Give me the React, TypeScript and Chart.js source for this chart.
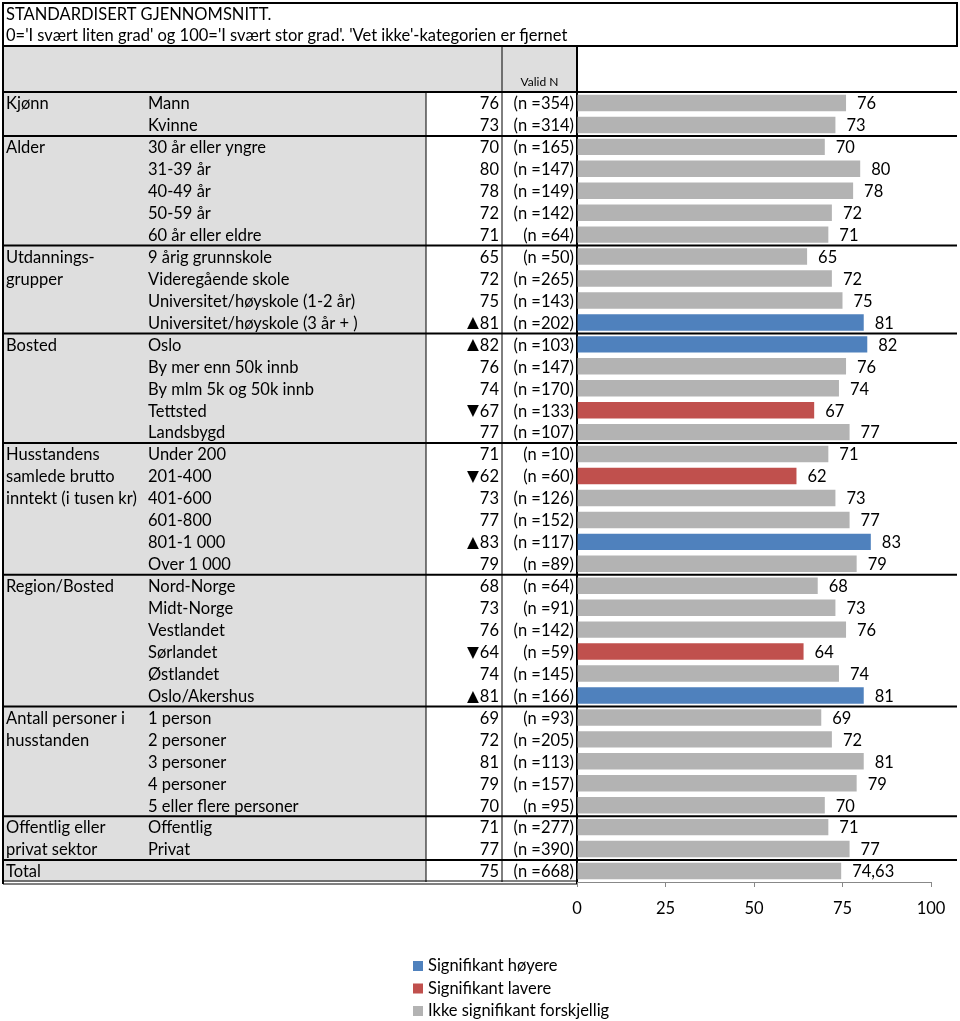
import React, { useEffect, useRef } from 'react';
import { Chart, registerables } from 'chart.js';

Chart.register(...registerables);

const titleLines = [
  'STANDARDISERT GJENNOMSNITT.',
  "0='I svært liten grad' og 100='I svært stor grad'. 'Vet ikke'-kategorien er fjernet",
];

const groupLabels: string[][] = [
  ['Kjønn'],
  ['Alder'],
  ['Utdannings-', 'grupper'],
  ['Bosted'],
  ['Husstandens', 'samlede brutto', 'inntekt (i tusen kr)'],
  ['Region/Bosted'],
  ['Antall personer i', 'husstanden'],
  ['Offentlig eller', 'privat sektor'],
  ['Total'],
];
const groupSizes = [2, 5, 4, 5, 6, 6, 5, 2, 1];

const categories = [
  'Mann', 'Kvinne',
  '30 år eller yngre', '31-39 år', '40-49 år', '50-59 år', '60 år eller eldre',
  '9 årig grunnskole', 'Videregående skole', 'Universitet/høyskole (1-2 år)', 'Universitet/høyskole (3 år + )',
  'Oslo', 'By mer enn 50k innb', 'By mlm 5k og 50k innb', 'Tettsted', 'Landsbygd',
  'Under 200', '201-400', '401-600', '601-800', '801-1 000', 'Over 1 000',
  'Nord-Norge', 'Midt-Norge', 'Vestlandet', 'Sørlandet', 'Østlandet', 'Oslo/Akershus',
  '1 person', '2 personer', '3 personer', '4 personer', '5 eller flere personer',
  'Offentlig', 'Privat',
  '',
];

const values = [
  76, 73,
  70, 80, 78, 72, 71,
  65, 72, 75, 81,
  82, 76, 74, 67, 77,
  71, 62, 73, 77, 83, 79,
  68, 73, 76, 64, 74, 81,
  69, 72, 81, 79, 70,
  71, 77,
  74.63,
];

const validN = [
  354, 314,
  165, 147, 149, 142, 64,
  50, 265, 143, 202,
  103, 147, 170, 133, 107,
  10, 60, 126, 152, 117, 89,
  64, 91, 142, 59, 145, 166,
  93, 205, 113, 157, 95,
  277, 390,
  668,
];

// h = significantly higher, l = significantly lower, n = not significant
const significance = [
  'n', 'n',
  'n', 'n', 'n', 'n', 'n',
  'n', 'n', 'n', 'h',
  'h', 'n', 'n', 'l', 'n',
  'n', 'l', 'n', 'n', 'h', 'n',
  'n', 'n', 'n', 'l', 'n', 'h',
  'n', 'n', 'n', 'n', 'n',
  'n', 'n',
  'n',
];

const xTicks = [0, 25, 50, 75, 100];
const legendKeys = ['h', 'l', 'n'];
const legendLabels = ['Signifikant høyere', 'Signifikant lavere', 'Ikke signifikant forskjellig'];

const COLORS: Record<string, string> = { h: '#4F81BD', l: '#C0504D', n: '#B3B3B3' };
const FONT = 'Lato, "Open Sans", sans-serif';
const FS = 16.5;
const CELL_BG = '#DEDEDE';

function fmt(v: number) {
  return Number.isInteger(v) ? String(v) : String(v).replace('.', ',');
}

const tablePlugin = {
  id: 'tablePlugin',
  beforeDraw(chart: any) {
    const ctx = chart.ctx as CanvasRenderingContext2D;
    const ys = chart.scales.y;
    const n = categories.length;
    const rowH = ys.getPixelForValue(1) - ys.getPixelForValue(0);
    const top = ys.getPixelForValue(0) - rowH / 2;
    const bottom = ys.getPixelForValue(n - 1) + rowH / 2;
    const L = 3, C1 = 426, C2 = 502, C3 = chart.chartArea.left, R = 957;
    const T = 3, HT = 46;

    ctx.save();
    ctx.fillStyle = '#fff';
    ctx.fillRect(0, 0, chart.width, chart.height);

    // header + label column backgrounds
    ctx.fillStyle = CELL_BG;
    ctx.fillRect(L, HT, C3 - L, top - HT);
    ctx.fillRect(L, top, C1 - L, bottom - top);

    // title
    ctx.fillStyle = '#000';
    ctx.textBaseline = 'middle';
    ctx.textAlign = 'left';
    ctx.font = `${FS}px ${FONT}`;
    ctx.fillText(titleLines[0], 6, 15);
    ctx.fillText(titleLines[1], 6, 36);

    // header text
    ctx.font = `12px ${FONT}`;
    ctx.textAlign = 'center';
    ctx.fillText('Valid N', (C2 + C3) / 2, 82);

    // rows
    ctx.font = `${FS}px ${FONT}`;
    for (let i = 0; i < n; i++) {
      const cy = ys.getPixelForValue(i) + 1;
      ctx.textAlign = 'left';
      ctx.fillText(categories[i], 148, cy);
      ctx.textAlign = 'right';
      const mark = significance[i] === 'h' ? '▲' : significance[i] === 'l' ? '▼' : '';
      ctx.fillText(String(Math.round(values[i])), C2 - 3, cy);
      if (mark) {
        const w = ctx.measureText(String(Math.round(values[i]))).width;
        ctx.font = `${FS - 1}px "DejaVu Sans", sans-serif`;
        ctx.fillText(mark, C2 - 4 - w, cy);
        ctx.font = `${FS}px ${FONT}`;
      }
      ctx.fillText(`(n =${validN[i]})`, C3 - 3, cy);
    }

    // group labels
    let idx = 0;
    const boundaries: number[] = [];
    groupSizes.forEach((sz, g) => {
      boundaries.push(ys.getPixelForValue(idx) - rowH / 2);
      ctx.textAlign = 'left';
      groupLabels[g].forEach((line, k) => {
        ctx.fillText(line, 6, ys.getPixelForValue(idx + k) + 1);
      });
      idx += sz;
    });

    // lines
    ctx.strokeStyle = '#000';
    const line = (x1: number, y1: number, x2: number, y2: number, w: number) => {
      ctx.lineWidth = w;
      ctx.beginPath();
      ctx.moveTo(x1, y1);
      ctx.lineTo(x2, y2);
      ctx.stroke();
    };
    // title box
    ctx.lineWidth = 2;
    ctx.strokeRect(L, T, R - L, HT - T);
    // verticals
    line(L, HT, L, bottom + 2, 2);
    line(C3, HT, C3, bottom + 2, 2);
    line(C1, top, C1, bottom, 1);
    line(C2, HT, C2, bottom, 1);
    // group separators
    boundaries.forEach((b) => line(L, b, R, b, 2));
    // bottom double line
    line(L, bottom - 1, C3, bottom - 1, 1);
    line(L, bottom + 2, C3, bottom + 2, 1);
    ctx.restore();
  },
  afterDatasetsDraw(chart: any) {
    const ctx = chart.ctx as CanvasRenderingContext2D;
    const meta = chart.getDatasetMeta(0);
    ctx.save();
    ctx.fillStyle = '#000';
    ctx.font = `${FS}px ${FONT}`;
    ctx.textAlign = 'left';
    ctx.textBaseline = 'middle';
    meta.data.forEach((el: any, i: number) => {
      ctx.fillText(fmt(values[i]), el.x + 11, el.y + 1);
    });
    ctx.restore();
  },
  afterDraw(chart: any) {
    const ctx = chart.ctx as CanvasRenderingContext2D;
    ctx.save();
    ctx.font = `${FS}px ${FONT}`;
    ctx.textAlign = 'left';
    ctx.textBaseline = 'middle';
    legendKeys.forEach((k, i) => {
      const cy = 966 + i * 22.5;
      ctx.fillStyle = COLORS[k];
      ctx.fillRect(413, cy - 5, 10, 10);
      ctx.fillStyle = '#000';
      ctx.fillText(legendLabels[i], 428, cy);
    });
    ctx.restore();
  },
};

export default function App() {
  const ref = useRef<HTMLCanvasElement | null>(null);
  useEffect(() => {
    if (!ref.current) return;
    const chart = new Chart(ref.current, {
      type: 'bar',
      data: {
        labels: categories,
        datasets: [
          {
            data: values,
            backgroundColor: significance.map((s) => COLORS[s]),
            barPercentage: 0.75,
            categoryPercentage: 1,
          },
        ],
      },
      options: {
        indexAxis: 'y',
        responsive: false,
        animation: false,
        layout: { padding: { left: 577, right: 29, top: 92, bottom: 99 } },
        plugins: { legend: { display: false }, tooltip: { enabled: false } },
        scales: {
          y: { type: 'category', display: false },
          x: {
            type: 'linear',
            min: 0,
            max: 100,
            afterBuildTicks: (s: any) => {
              s.ticks = xTicks.map((v) => ({ value: v }));
            },
            afterFit: (s: any) => {
              s.height = 40;
            },
            ticks: {
              color: '#000',
              font: { family: FONT, size: FS },
              padding: 12,
            },
            grid: { drawOnChartArea: false, drawTicks: true, tickLength: 5, color: '#888' },
            border: { color: '#888' },
          },
        },
      },
      plugins: [tablePlugin],
    });
    return () => chart.destroy();
  }, []);
  return (
    <div style={{ position: 'absolute', left: 0, top: 0, width: 960, height: 1021, background: '#fff' }}>
      <canvas ref={ref} width={960} height={1021} style={{ display: 'block' }} />
    </div>
  );
}
